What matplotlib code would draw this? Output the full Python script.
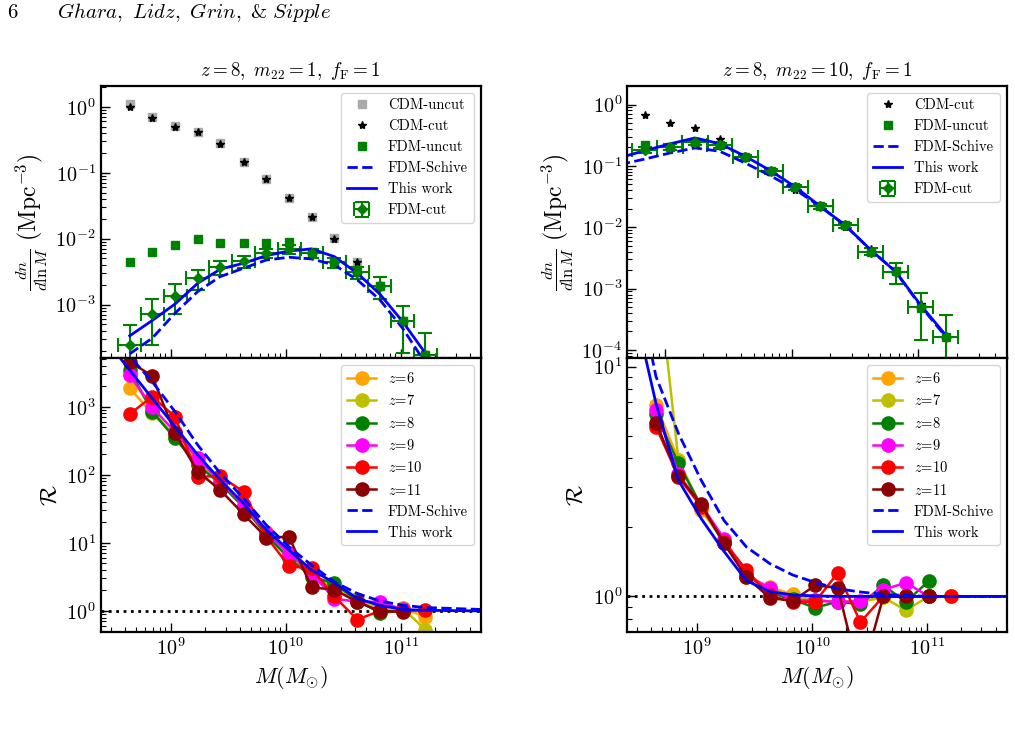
import matplotlib
matplotlib.use("Agg")
import matplotlib.pyplot as plt
import numpy as np
from matplotlib.ticker import NullFormatter

plt.rcParams["font.family"] = "serif"
plt.rcParams["font.serif"] = ["cmr10", "DejaVu Serif"]
plt.rcParams["mathtext.fontset"] = "cm"
plt.rcParams["axes.formatter.use_mathtext"] = True
plt.rcParams["axes.unicode_minus"] = False

# halo mass bin centres (Msun), 0.2 dex bins
mass = [4.4e8, 6.9e8, 1.09e9, 1.72e9, 2.7e9, 4.3e9, 6.8e9, 1.07e10,
        1.68e10, 2.65e10, 4.2e10, 6.6e10, 1.04e11, 1.64e11]
half_bin_dex = 0.1

# ---- top left: m22 = 1 mass functions
cdm_uncut = [1.12, 0.69, 0.51, 0.42, 0.28, 0.146, 0.081, 0.041, 0.0215, 0.0101,
             0.0045, 0.0019, 5.6e-4, 1.7e-4]
cdm_cut = [0.98, 0.68, 0.50, 0.41, 0.275, 0.144, 0.080, 0.041, 0.0213, 0.0099,
           0.00445, 0.0019, 5.6e-4, 1.7e-4]
fdm_uncut_m1 = [0.00443, 0.0062, 0.0080, 0.0100, 0.0086, 0.0087, 0.0086, 0.0090,
                0.0062, 0.0044, 0.0031, 0.0019, 5.7e-4, 1.73e-4]
fdm_cut_m1 = [2.45e-4, 7.2e-4, 1.37e-3, 2.51e-3, 3.69e-3, 4.54e-3, 6.0e-3, 7.0e-3,
              6.0e-3, 4.35e-3, 3.1e-3, 1.92e-3, 5.7e-4, 1.73e-4]
fdm_cut_m1_err = [2.45e-4, 4.8e-4, 6.6e-4, 8.5e-4, 9e-4, 9e-4, 1.0e-3, 1.1e-3,
                  1.0e-3, 8e-4, 6.5e-4, 7e-4, 3.85e-4, 2.0e-4]
schive_m1 = [1.79e-4, 3.09e-4, 7.4e-4, 1.58e-3, 2.66e-3, 3.56e-3, 4.75e-3, 5.22e-3,
             4.92e-3, 3.99e-3, 2.37e-3, 1.18e-3, 4.38e-4, 1.3e-4]
thiswork_m1 = [3.36e-4, 5.73e-4, 1.02e-3, 2.11e-3, 3.44e-3, 4.24e-3, 5.53e-3, 6.5e-3,
               6.98e-3, 5.34e-3, 2.99e-3, 1.44e-3, 5.53e-4, 1.83e-4]

# ---- top right: m22 = 10 mass functions (data from the 2nd bin on)
fdm_uncut_m10 = [0.222, 0.205, 0.245, 0.22, 0.139, 0.082, 0.0455, 0.022, 0.0107,
                 0.0040, 0.0019, 4.9e-4, 1.64e-4]
fdm_cut_m10 = [0.184, 0.203, 0.242, 0.217, 0.138, 0.0814, 0.0451, 0.0218, 0.01067,
               0.00401, 0.00189, 4.94e-4, 1.64e-4]
fdm_cut_m10_err = [0.02, 0.02, 0.022, 0.02, 0.012, 0.007, 0.004, 0.002, 1.0e-3,
                   5e-4, 7e-4, 3.5e-4, 2.05e-4]
schive_m10 = [0.105, 0.129, 0.162, 0.196, 0.173, 0.111, 0.069, 0.0408, 0.0218,
              0.0106, 0.00427, 0.00189, 5.2e-4, 1.65e-4]
thiswork_m10 = [0.136, 0.177, 0.228, 0.285, 0.23, 0.143, 0.0835, 0.0451, 0.0219,
                0.0107, 0.00427, 0.00189, 5.4e-4, 1.75e-4]

# ---- ratio panels
redshifts = [6, 7, 8, 9, 10, 11]
z_colors = ["orange", "y", "g", "magenta", "r", "darkred"]
nan = np.nan
ratio_m1 = {
    6: [1862, 800, 380, 155, 88, 34, 14.5, 6.6, 3.4, 2.0, 1.47, 1.15, 1.1, 0.82],
    7: [3000, 880, 360, 145, 76, 33, 14, 6.2, 3.3, 2.3, 1.52, 1.1, 1.1, 0.53],
    8: [3460, 850, 343, 139, 74, 33.9, 13, 5.9, 3.2, 2.53, 1.42, 0.935, 1.0, nan],
    9: [2925, 980, 428, 174, 79, 35.7, 14, 6.98, 3.55, 1.52, 1.36, 1.36, 1.05, nan],
    10: [781, 1405, 713, 93.6, 95.7, 56.3, 12.3, 4.54, 4.2, 1.63, 0.746, 1.0, 1.0, 1.02],
    11: [4590, 2827, 406, 111, 59.6, 26.4, 11.9, 12.3, 2.21, 2.06, 1.35, 1.0, 0.97, nan],
}
ratio_m10 = {
    6: [6.81, 3.92, 2.37, 1.73, 1.23, 1.098, 1.02, 0.96, 0.95, 0.95, 0.99, 1.0, 1.0, 1.0],
    7: [30.0, 3.92, 2.45, 1.72, 1.22, 1.09, 0.99, 0.96, 0.95, 0.95, 0.99, 0.869, 1.0, 1.0],
    8: [6.2, 3.79, 2.47, 1.70, 1.25, 1.04, 0.97, 0.892, 0.95, 0.923, 1.117, 0.945, 1.166, nan],
    9: [6.5, 3.4, 2.5, 1.785, 1.23, 1.09, 0.96, 0.96, 0.945, 0.955, 1.07, 1.147, 1.0, nan],
    10: [5.48, 3.31, 2.45, 1.73, 1.30, 1.01, 0.947, 0.947, 1.264, 0.773, 1.0, 1.0, 1.0, 1.0],
    11: [5.7, 3.33, 2.52, 1.70, 1.21, 0.987, 0.954, 1.117, 1.09, 0.436, 1.0, 1.0, 1.0, nan],
}

curve_mass = [3.0e8] + mass + [5.0e11]
schive_r_m1 = [9000, 5500, 2335, 845, 273, 105, 44.9, 18.2, 8.74, 4.7, 2.67, 1.8, 1.4,
               1.21, 1.12, 1.05]
thiswork_r_m1 = [7800, 3450, 1327, 509, 195, 83.6, 37.9, 15.4, 7.8, 3.97, 2.6, 1.52,
                 1.21, 1.05, 1.02, 1.0]
schive_r_m10 = [23, 9.05, 5.12, 3.2, 2.14, 1.64, 1.39, 1.24, 1.15, 1.08, 1.045, 1.02,
                1.01, 1.0, 1.0, 1.0]
thiswork_r_m10 = [16, 6.92, 3.2, 2.18, 1.57, 1.17, 1.05, 1.015, 1.005, 1.0, 1.0, 1.0,
                  1.0, 1.0, 1.0, 1.0]


def style_axis(ax):
    ax.set_xscale("log")
    ax.set_yscale("log")
    ax.tick_params(which="both", direction="in", labelsize=14.5)
    ax.tick_params(which="major", length=6.5, width=1.0)
    ax.tick_params(which="minor", length=3.5, width=0.8)
    for sp in ax.spines.values():
        sp.set_linewidth(1.6)


def mf_panel(ax, m, fdm_uncut, fdm_cut, fdm_err, m_curve, schive, thiswork, with_uncut):
    m = np.array(m)
    xerr = [m * (1 - 10 ** -half_bin_dex), m * (10 ** half_bin_dex - 1)]
    handles = []
    if with_uncut:
        h0, = ax.plot(mass, cdm_uncut, "s", color="#aaaaaa", ms=6, label="CDM-uncut")
        handles.append(h0)
        h1, = ax.plot(mass, cdm_cut, "*", color="k", ms=6, label="CDM-cut")
    else:
        h1, = ax.plot(mass[1:], cdm_cut[1:], "*", color="k", ms=6, label="CDM-cut")
    h2, = ax.plot(m, fdm_uncut, "s", color="g", ms=6, label="FDM-uncut")
    eb = ax.errorbar(m, fdm_cut, yerr=fdm_err, xerr=xerr, fmt="D", color="g", ms=5,
                     elinewidth=1.5, capsize=5, capthick=1.5, label="FDM-cut")
    h3, = ax.plot(m_curve, schive, "--", color="b", lw=2, label="FDM-Schive")
    h4, = ax.plot(m_curve, thiswork, "-", color="b", lw=2, label="This work")
    handles += [h1, h2, h3, h4, eb]
    ax.legend(handles=handles, loc="upper right", fontsize=10.5)
    ax.tick_params(labelbottom=False)


def ratio_panel(ax, ratios, schive, thiswork):
    ax.axhline(1.0, color="k", ls=":", lw=2)
    for z, c in zip(redshifts, z_colors):
        ax.plot(mass, ratios[z], "o-", color=c, ms=9.5, lw=1.8, label=f"$z$={z}")
    ax.plot(curve_mass, schive, "--", color="b", lw=2, label="FDM-Schive")
    ax.plot(curve_mass, thiswork, "-", color="b", lw=2, label="This work")
    ax.legend(loc="upper right", fontsize=10.5)
    ax.set_xlabel(r"$M(M_{\odot})$", fontsize=16)
    ax.set_ylabel(r"$\mathcal{R}$", fontsize=17)


fig = plt.figure(figsize=(10.15, 7.39), dpi=100)
x0l, x1l, x0r, x1r = 0.0992, 0.4739, 0.6177, 0.9921
ybot, ymid, ytop = 0.1448, 0.5156, 0.8843
ax_tl = fig.add_axes([x0l, ymid, x1l - x0l, ytop - ymid])
ax_bl = fig.add_axes([x0l, ybot, x1l - x0l, ymid - ybot])
ax_tr = fig.add_axes([x0r, ymid, x1r - x0r, ytop - ymid])
ax_br = fig.add_axes([x0r, ybot, x1r - x0r, ymid - ybot])
for ax in (ax_tl, ax_bl, ax_tr, ax_br):
    style_axis(ax)

mf_panel(ax_tl, mass, fdm_uncut_m1, fdm_cut_m1, fdm_cut_m1_err, mass,
         schive_m1, thiswork_m1, True)
ax_tl.set_xlim(2.46e8, 5e11)
ax_tl.set_ylim(1.55e-4, 2.1)
ax_tl.set_ylabel(r"$\frac{dn}{d\ln M}\ ({\rm Mpc}^{-3})$", fontsize=17)
ax_tl.set_title(r"$z=8,\ m_{22}=1,\ f_{\rm F}=1$", fontsize=13.7, pad=7)

mf_panel(ax_tr, mass[1:], fdm_uncut_m10, fdm_cut_m10, fdm_cut_m10_err, mass,
         schive_m10, thiswork_m10, False)
ax_tr.set_xlim(5.0e8, 5e11)
ax_tr.set_ylim(7.4e-5, 2.04)
ax_tr.set_ylabel(r"$\frac{dn}{d\ln M}\ ({\rm Mpc}^{-3})$", fontsize=17)
ax_tr.set_title(r"$z=8,\ m_{22}=10,\ f_{\rm F}=1$", fontsize=13.7, pad=7)

ratio_panel(ax_bl, ratio_m1, schive_r_m1, thiswork_r_m1)
ax_bl.set_xlim(2.46e8, 5e11)
ax_bl.set_ylim(0.49, 5200)

ratio_panel(ax_br, ratio_m10, schive_r_m10, thiswork_r_m10)
ax_br.set_xlim(2.46e8, 5e11)
ax_br.set_ylim(0.70, 10.9)
ax_br.yaxis.set_minor_formatter(NullFormatter())

fig.text(0.007, 0.983, "6", fontsize=15, va="center")
fig.text(0.056, 0.983, r"$\it{Ghara,\ Lidz,\ Grin,\ }$" + "&" + r"$\it{\ Sipple}$",
         fontsize=15, va="center")

fig.savefig("out.png", dpi=100)
